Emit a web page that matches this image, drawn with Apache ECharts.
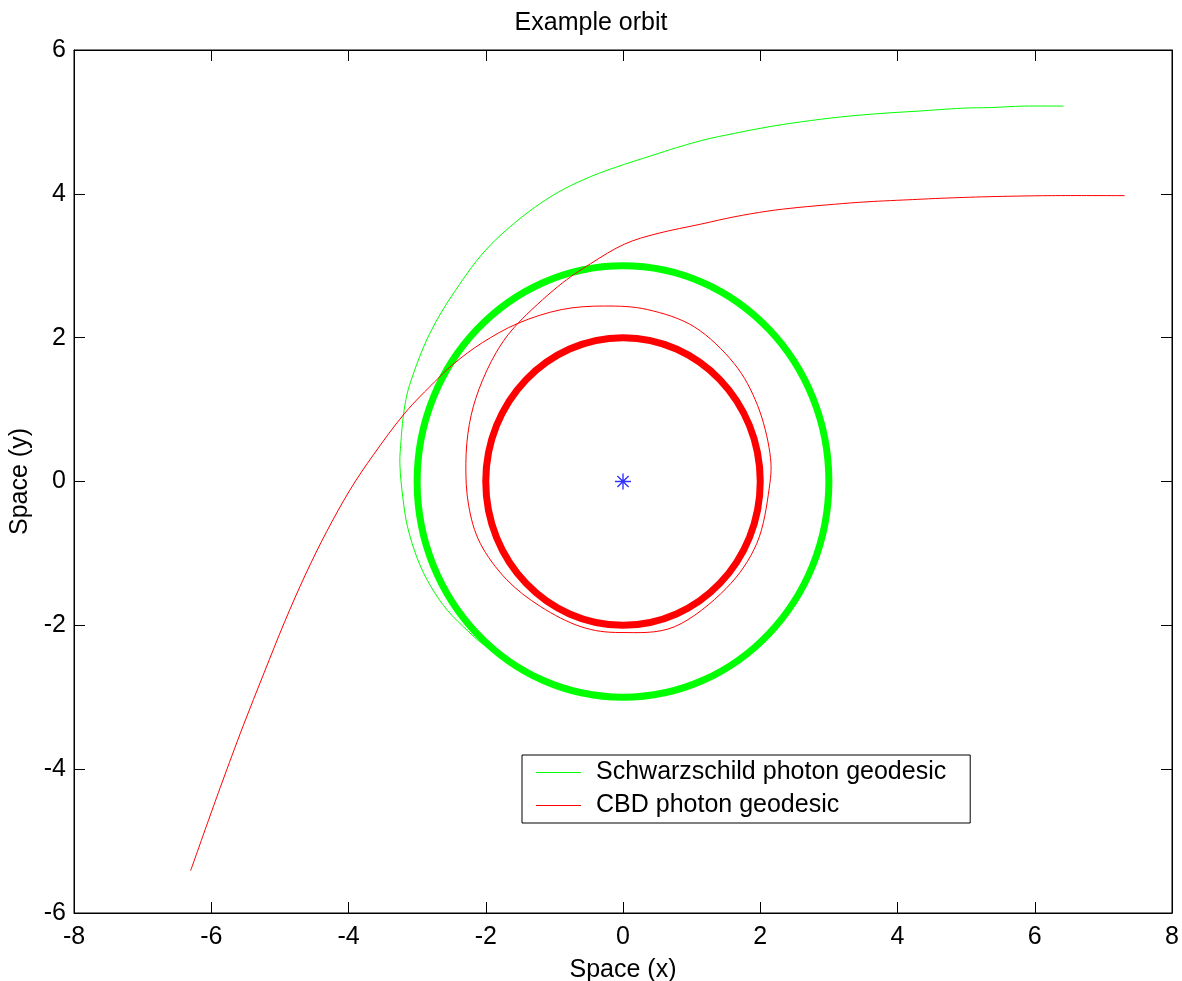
<!DOCTYPE html>
<html>
<head>
<meta charset="utf-8">
<title>Example orbit</title>
<script src="https://cdn.jsdelivr.net/npm/echarts@6/dist/echarts.min.js"></script>
<style>
  html, body { margin: 0; padding: 0; background: #fff; }
  #chart { width: 1182px; height: 981px; }
</style>
</head>
<body>
<div id="chart"></div>
<script>
// Axis ranges and tick spacing
const xTicks = [-8, -6, -4, -2, 0, 2, 4, 6, 8];
const yTicks = [-6, -4, -2, 0, 2, 4, 6];

// Circular orbits around the centre: [centre x, centre y, radius]
const photonSphere = [[0, 0, 3]];   // Schwarzschild photon sphere
const cbdRing = [[0, 0, 2]];        // CBD photon ring

// Schwarzschild photon geodesic, spiralling onto the photon sphere
const schwarzschildPath = [
  [6.42,5.22],[5.85,5.22],[5.36,5.20],[4.93,5.19],[4.30,5.15],[3.79,5.12],[3.18,5.07],[2.59,5.00],
  [2.11,4.93],[1.62,4.84],[1.14,4.74],[0.51,4.56],[-0.47,4.24],[-1.20,3.87],[-1.93,3.29],[-2.44,2.66],
  [-2.82,2.05],[-3.09,1.40],[-3.19,0.99],[-3.24,0.50],[-3.25,0.21],[-3.21,-0.21],[-3.14,-0.63],
  [-2.99,-1.09],[-2.80,-1.46],[-2.56,-1.79],[-2.27,-2.07],[-2.07,-2.24],[-1.85,-2.38]
];

// CBD photon geodesic: one loop around the centre, then escape
const cbdPath = [
  [7.31,3.975],[6.24,3.975],[5.32,3.96],[4.68,3.94],[4.22,3.92],[3.57,3.89],[3.08,3.855],[2.55,3.81],
  [2.11,3.76],[1.62,3.68],[1.14,3.58],[0.51,3.45],[0.02,3.30],[-0.47,3.03],[-0.95,2.71],[-1.53,2.20],
  [-1.85,1.79],[-2.10,1.28],[-2.24,0.79],[-2.29,0.25],[-2.25,-0.33],[-2.08,-0.86],[-1.70,-1.36],
  [-1.20,-1.74],[-0.61,-2.02],[-0.03,-2.10],[0.75,-2.02],[1.50,-1.49],[1.95,-0.86],[2.13,-0.10],[2.14,0.40],
  [1.96,1.06],[1.62,1.64],[1.04,2.15],[0.36,2.39],[-0.27,2.44],[-0.90,2.39],[-1.53,2.20],[-2.05,1.93],
  [-2.45,1.65],[-2.74,1.39],[-3.18,0.95],[-3.63,0.38],[-3.98,-0.12],[-4.32,-0.70],[-4.63,-1.30],
  [-4.93,-1.95],[-5.23,-2.66],[-5.54,-3.41],[-5.84,-4.18],[-6.04,-4.71],[-6.30,-5.41]
];

// Central mass
const centre = [[0, 0]];

const FONT = "'Liberation Sans', Arial, sans-serif";
const FS = 25;

// Cubic Bezier path passing through every pixel point (Catmull-Rom tangents).
function throughPoints(px) {
  let d = 'M' + px[0][0] + ',' + px[0][1];
  for (let i = 0; i < px.length - 1; i++) {
    const p0 = px[i - 1] || px[i];
    const p1 = px[i];
    const p2 = px[i + 1];
    const p3 = px[i + 2] || px[i + 1];
    const c1x = p1[0] + (p2[0] - p0[0]) / 6, c1y = p1[1] + (p2[1] - p0[1]) / 6;
    const c2x = p2[0] - (p3[0] - p1[0]) / 6, c2y = p2[1] - (p3[1] - p1[1]) / 6;
    d += 'C' + c1x + ',' + c1y + ',' + c2x + ',' + c2y + ',' + p2[0] + ',' + p2[1];
  }
  return d;
}

// A trajectory drawn as one smooth stroke, placed with the grid's own axes.
function pathSeries(name, points, color, z) {
  return {
    name: name,
    type: 'custom',
    coordinateSystem: 'cartesian2d',
    data: points,
    itemStyle: { color: color },
    silent: true,
    z: z,
    renderItem: function (params, api) {
      if (params.dataIndex !== 0) return null;
      const px = points.map(function (p) { return api.coord(p); });
      return {
        type: 'path',
        shape: { pathData: throughPoints(px) },
        style: { stroke: color, lineWidth: 1, fill: null }
      };
    }
  };
}

// A circular orbit of given radius, scaled by both axes.
function ringSeries(name, ring, color, width, z) {
  return {
    name: name,
    type: 'custom',
    coordinateSystem: 'cartesian2d',
    data: ring,
    itemStyle: { color: color },
    silent: true,
    z: z,
    renderItem: function (params, api) {
      const c = api.coord([api.value(0), api.value(1)]);
      const s = api.size([api.value(2), api.value(2)]);
      return {
        type: 'ellipse',
        shape: { cx: c[0], cy: c[1], rx: s[0], ry: s[1] },
        style: { stroke: color, lineWidth: width, fill: null }
      };
    }
  };
}

const chart = echarts.init(document.getElementById('chart'), null, { renderer: 'canvas' });

const baseAxis = {
  type: 'value',
  splitLine: { show: false },
  axisLine: { show: true, onZero: false, lineStyle: { color: '#000', width: 1 } },
  axisTick: { show: true, inside: true, length: 11, lineStyle: { color: '#000', width: 1 } },
  axisLabel: { color: '#000', fontSize: FS, fontFamily: FONT }
};

chart.setOption({
  animation: false,
  backgroundColor: '#fff',
  title: {
    text: 'Example orbit',
    left: 'center',
    top: 11,
    padding: 0,
    textStyle: { color: '#000', fontSize: FS, fontWeight: 'normal', fontFamily: FONT }
  },
  grid: {
    left: 74, right: 10, top: 50, bottom: 68,
    outerBoundsMode: 'none', containLabel: false,
    show: true, borderColor: '#000', borderWidth: 1
  },
  xAxis: [
    Object.assign({}, baseAxis, {
      position: 'bottom', min: xTicks[0], max: xTicks[xTicks.length - 1], interval: 2,
      name: 'Space (x)', nameLocation: 'middle', nameGap: 45,
      nameTextStyle: { color: '#000', fontSize: FS, fontFamily: FONT },
      axisLabel: Object.assign({}, baseAxis.axisLabel, { margin: 12 })
    }),
    Object.assign({}, baseAxis, {
      position: 'top', min: xTicks[0], max: xTicks[xTicks.length - 1], interval: 2,
      axisLabel: { show: false }
    })
  ],
  yAxis: [
    Object.assign({}, baseAxis, {
      position: 'left', min: yTicks[0], max: yTicks[yTicks.length - 1], interval: 2,
      name: 'Space (y)', nameLocation: 'middle', nameGap: 38,
      nameTextStyle: { color: '#000', fontSize: FS, fontFamily: FONT },
      axisLabel: Object.assign({}, baseAxis.axisLabel, { margin: 8 })
    }),
    Object.assign({}, baseAxis, {
      position: 'right', min: yTicks[0], max: yTicks[yTicks.length - 1], interval: 2,
      axisLabel: { show: false }
    })
  ],
  legend: {
    data: ['Schwarzschild photon geodesic', 'CBD photon geodesic'],
    orient: 'vertical',
    left: 522,
    top: 755,
    padding: [5, 24, 5, 14],
    itemGap: 8,
    itemWidth: 45,
    itemHeight: 1,
    icon: 'rect',
    borderColor: '#000',
    borderWidth: 1,
    backgroundColor: '#fff',
    textStyle: { color: '#000', fontSize: FS, fontFamily: FONT, padding: [0, 0, 0, 10] }
  },
  series: [
    ringSeries('photon sphere', photonSphere, '#00ff00', 7, 2),
    ringSeries('photon ring', cbdRing, '#ff0000', 7, 2),
    pathSeries('Schwarzschild photon geodesic', schwarzschildPath, '#00ff00', 3),
    pathSeries('CBD photon geodesic', cbdPath, '#ff0000', 3),
    {
      name: 'centre', type: 'scatter', data: centre,
      symbol: 'path://M8,0L8,16M0,8L16,8M2.4,2.4L13.6,13.6M2.4,13.6L13.6,2.4',
      symbolSize: 16,
      itemStyle: { color: 'transparent', borderColor: '#0000ff', borderWidth: 1.4 },
      z: 4
    }
  ]
});
</script>
</body>
</html>
